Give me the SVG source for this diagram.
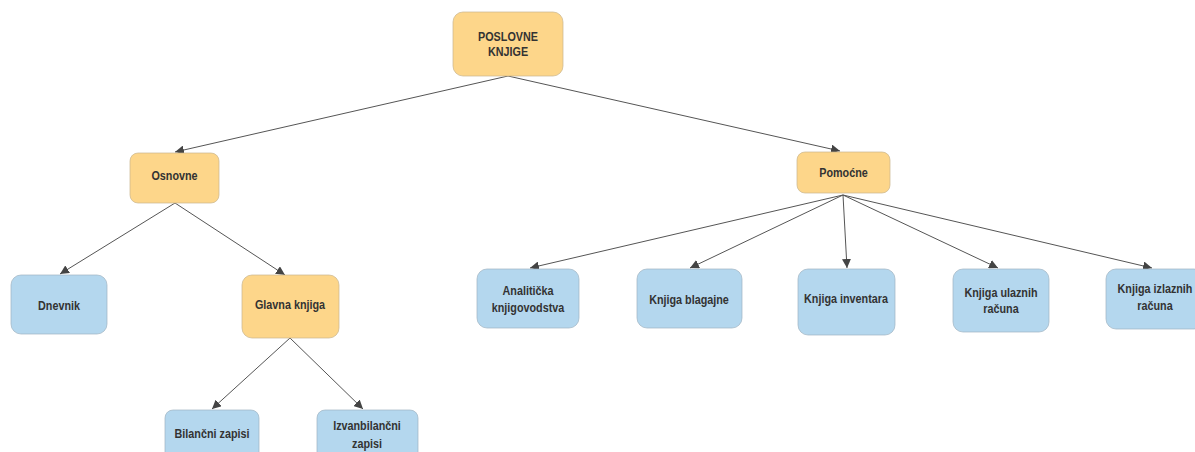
<svg xmlns="http://www.w3.org/2000/svg" width="1195" height="452" viewBox="0 0 1195 452">
<defs>
<style>
.o{fill:#FDD68A;stroke:#c9b58c;stroke-width:0.7}
.b{fill:#B4D7EE;stroke:#9fb3c2;stroke-width:0.7}
.t{font-family:"Liberation Sans",Arial,sans-serif;font-weight:bold;font-size:13px;fill:#333;text-anchor:middle}
.e{stroke:#555;stroke-width:1;fill:none;marker-end:url(#a)}
</style>
<marker id="a" viewBox="0 0 10 10" refX="10" refY="5" markerWidth="9" markerHeight="9" markerUnits="userSpaceOnUse" orient="auto">
<path d="M0,0 L10,5 L0,10 z" fill="#444"/>
</marker>
</defs>
<rect width="1195" height="452" fill="#fff"/>
<g id="edges">
<line class="e" x1="508" y1="76" x2="175" y2="152"/>
<line class="e" x1="508" y1="76" x2="840" y2="151"/>
<line class="e" x1="175" y1="203" x2="60" y2="274"/>
<line class="e" x1="175" y1="203" x2="285" y2="275"/>
<line class="e" x1="290" y1="338" x2="212" y2="409"/>
<line class="e" x1="290" y1="338" x2="363" y2="409"/>
<line class="e" x1="843" y1="195" x2="530" y2="268"/>
<line class="e" x1="843" y1="195" x2="690" y2="268"/>
<line class="e" x1="843" y1="195" x2="847" y2="268"/>
<line class="e" x1="843" y1="195" x2="998" y2="268"/>
<line class="e" x1="843" y1="195" x2="1152" y2="268"/>
</g>
<g id="root"><rect class="o" x="453" y="12" width="110" height="64" rx="10"/><text class="t" transform="translate(508,41) scale(0.83,1)">POSLOVNE</text><text class="t" transform="translate(508,56) scale(0.83,1)">KNJIGE</text></g>
<g id="osnovne"><rect class="o" x="130" y="153" width="89" height="50" rx="8"/><text class="t" transform="translate(174.5,179.5) scale(0.83,1)">Osnovne</text></g>
<g id="pomocne"><rect class="o" x="797" y="152" width="93" height="41" rx="8"/><text class="t" transform="translate(843.5,176.5) scale(0.83,1)">Pomoćne</text></g>
<g id="dnevnik"><rect class="b" x="11" y="275" width="96" height="59" rx="10"/><text class="t" transform="translate(59,309.5) scale(0.83,1)">Dnevnik</text></g>
<g id="glavna"><rect class="o" x="242" y="275" width="97" height="63" rx="10"/><text class="t" transform="translate(290,308.5) scale(0.83,1)">Glavna knjiga</text></g>
<g id="bilancni"><rect class="b" x="165" y="410" width="94" height="50" rx="8"/><text class="t" transform="translate(212,437.5) scale(0.83,1)">Bilančni zapisi</text></g>
<g id="izvanbilancni"><rect class="b" x="317" y="410" width="101" height="50" rx="8"/><text class="t" transform="translate(367,429.5) scale(0.83,1)">Izvanbilančni</text><text class="t" transform="translate(367,447.5) scale(0.83,1)">zapisi</text></g>
<g id="analiticka"><rect class="b" x="477" y="269" width="102" height="59" rx="10"/><text class="t" transform="translate(528,294.5) scale(0.83,1)">Analitička</text><text class="t" transform="translate(528,311.5) scale(0.83,1)">knjigovodstva</text></g>
<g id="blagajne"><rect class="b" x="637" y="269" width="105" height="59" rx="10"/><text class="t" transform="translate(689,303.5) scale(0.83,1)">Knjiga blagajne</text></g>
<g id="inventara"><rect class="b" x="798" y="269" width="97" height="66" rx="10"/><text class="t" transform="translate(846,302.5) scale(0.83,1)">Knjiga inventara</text></g>
<g id="ulaznih"><rect class="b" x="953" y="269" width="96" height="63" rx="10"/><text class="t" transform="translate(1001,296.5) scale(0.83,1)">Knjiga ulaznih</text><text class="t" transform="translate(1001,312.5) scale(0.83,1)">računa</text></g>
<g id="izlaznih"><rect class="b" x="1106" y="269" width="98" height="60" rx="10"/><text class="t" transform="translate(1155,292.5) scale(0.83,1)">Knjiga izlaznih</text><text class="t" transform="translate(1155,309.5) scale(0.83,1)">računa</text></g>
</svg>
